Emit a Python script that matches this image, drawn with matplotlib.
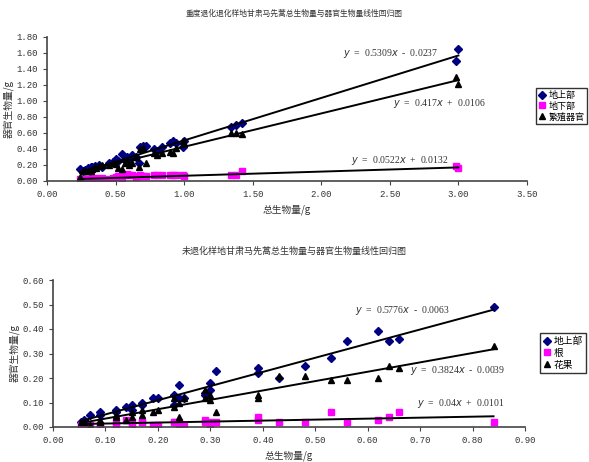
import matplotlib
matplotlib.use("Agg")
import matplotlib.pyplot as plt
import numpy as np

plt.rcParams['font.family'] = ['Liberation Serif', 'Noto Sans CJK SC']

# 重度退化样地
x1 = [0.24, 0.26, 0.28, 0.30, 0.32, 0.33, 0.35, 0.36, 0.38, 0.40, 0.45, 0.48, 0.50,
      0.52, 0.55, 0.57, 0.58, 0.60, 0.62, 0.65, 0.67, 0.68, 0.70, 0.72, 0.78, 0.80,
      0.84, 0.90, 0.92, 0.94, 0.99, 1.00, 1.34, 1.38, 1.42, 2.98, 3.00]
above1 = [0.15, 0.12, 0.14, 0.16, 0.18, 0.17, 0.19, 0.17, 0.20, 0.18, 0.22, 0.24, 0.27,
          0.25, 0.34, 0.26, 0.30, 0.28, 0.32, 0.30, 0.22, 0.43, 0.44, 0.44, 0.40, 0.38,
          0.42, 0.48, 0.50, 0.47, 0.43, 0.50, 0.67, 0.70, 0.72, 1.50, 1.65]
below1 = [0.03, 0.02, 0.03, 0.02, 0.03, 0.04, 0.03, 0.04, 0.03, 0.04, 0.03, 0.04, 0.05,
          0.06, 0.03, 0.08, 0.09, 0.07, 0.08, 0.05, 0.06, 0.07, 0.06, 0.06, 0.08, 0.07,
          0.07, 0.08, 0.07, 0.07, 0.07, 0.06, 0.07, 0.08, 0.12, 0.19, 0.16]
repro1 = [0.05, 0.13, 0.12, 0.13, 0.12, 0.15, 0.18, 0.16, 0.19, 0.20, 0.20, 0.22, 0.21,
          0.16, 0.15, 0.22, 0.25, 0.20, 0.22, 0.30, 0.17, 0.40, 0.41, 0.22, 0.35, 0.33,
          0.35, 0.36, 0.35, 0.41, 0.50, 0.48, 0.60, 0.60, 0.59, 1.30, 1.21]
fit1 = [(0.5309, -0.0237), (0.0522, 0.0132), (0.417, 0.0106)]
labels1 = ["地上部", "地下部", "繁殖器官"]

# 未退化样地
x2 = [0.053, 0.06, 0.07, 0.09, 0.09, 0.12, 0.12, 0.14, 0.15, 0.15, 0.17, 0.17, 0.19,
      0.20, 0.23, 0.23, 0.24, 0.24, 0.25, 0.29, 0.29, 0.30, 0.30, 0.31, 0.39, 0.39,
      0.43, 0.48, 0.53, 0.56, 0.62, 0.64, 0.66, 0.84]
above2 = [0.02, 0.03, 0.05, 0.06, 0.05, 0.07, 0.06, 0.08, 0.09, 0.07, 0.10, 0.09, 0.12,
          0.12, 0.13, 0.09, 0.17, 0.12, 0.12, 0.13, 0.14, 0.18, 0.15, 0.23, 0.24, 0.22,
          0.20, 0.25, 0.28, 0.35, 0.39, 0.35, 0.36, 0.49]
root2 = [0.01, 0.01, 0.01, 0.01, 0.01, 0.01, 0.02, 0.03, 0.02, 0.01, 0.02, 0.02, 0.01,
         0.01, 0.02, 0.02, 0.02, 0.01, 0.01, 0.03, 0.02, 0.02, 0.01, 0.02, 0.04, 0.03,
         0.02, 0.02, 0.06, 0.02, 0.03, 0.04, 0.06, 0.02]
fruit2 = [0.02, 0.02, 0.01, 0.03, 0.02, 0.05, 0.04, 0.03, 0.06, 0.04, 0.07, 0.05, 0.06,
          0.07, 0.12, 0.08, 0.10, 0.04, 0.12, 0.15, 0.12, 0.13, 0.11, 0.06, 0.13, 0.12,
          0.21, 0.21, 0.19, 0.19, 0.20, 0.25, 0.24, 0.33]
fit2 = [(0.5776, -0.0063), (0.04, 0.0101), (0.3824, -0.0039)]
labels2 = ["地上部", "根", "花果"]

colors = ["#000080", "#FF00FF", "black"]
markers = ["D", "s", "^"]
msizes = [3.6, 4.2, 4.8]
cjk = ['Noto Sans CJK SC']
mono = ['Liberation Mono']


def eq_text(k, b):
    sign = "+" if b >= 0 else "-"
    return f"$y$  =  {k:g}$x$  {sign}  {abs(b):.4f}"


def draw(ax, x, ys, fits, labels, eq_pos, xlim, ylim, xstep, ystep):
    x = np.array(x)
    handles = []
    for y, c, m, ms, lab in zip(ys, colors, markers, msizes, labels):
        h, = ax.plot(x, y, ls="none", marker=m, color=c, ms=ms, mec=c, label=lab)
        handles.append(h)
    xs = np.array([x.min(), x.max()])
    for (k, b), (tx, ty) in zip(fits, eq_pos):
        ax.plot(xs, k * xs + b, color="black", lw=1.4)
        ax.text(tx, ty, eq_text(k, b), fontsize=7, color="#333333", ha="left", va="center")
    ax.set_xlim(*xlim)
    ax.set_ylim(*ylim)
    ax.set_xticks(np.arange(xlim[0], xlim[1] + 1e-9, xstep))
    ax.set_yticks(np.arange(ylim[0], ylim[1] + 1e-9, ystep))
    ax.xaxis.set_major_formatter(matplotlib.ticker.FormatStrFormatter("%.2f"))
    ax.yaxis.set_major_formatter(matplotlib.ticker.FormatStrFormatter("%.2f"))
    ax.spines["top"].set_visible(False)
    ax.spines["right"].set_visible(False)
    for s in ["left", "bottom"]:
        ax.spines[s].set_color("#444444")
        ax.spines[s].set_linewidth(1.2)
    ax.tick_params(labelsize=6.5, length=3, colors="#444444", labelcolor="#333333")
    for t in ax.get_xticklabels() + ax.get_yticklabels():
        t.set_family(mono)
    ax.set_xlabel("总生物量/g", fontsize=7, family=cjk, color="#333333", labelpad=4)
    ax.set_ylabel("器官生物量/g", fontsize=7, family=cjk, color="#333333", labelpad=2)
    return handles


fig = plt.figure(figsize=(5.89, 4.62), dpi=100)

ax1 = fig.add_axes([47 / 589, 1 - 181 / 462, 480 / 589, 144 / 462])
h1 = draw(ax1, x1, [above1, below1, repro1], fit1, labels1,
          [(2.16, 1.60), (2.22, 0.26), (2.52, 0.975)], (0, 3.5), (0, 1.8), 0.5, 0.2)
fig.text(0.50, 1 - 14 / 462, "重度退化退化样地甘肃马先蒿总生物量与器官生物量线性回归图",
         fontsize=5.6, family=cjk, color="#333333", ha="center", va="center")
leg1 = fig.legend(handles=h1, loc="upper left", bbox_to_anchor=(536 / 589, 1 - 88 / 462),
                  prop={"family": cjk, "size": 6.5}, frameon=True, fancybox=False,
                  handlelength=0.8, handletextpad=0.3, borderpad=0.3, labelspacing=0.2,
                  borderaxespad=0)
leg1.get_frame().set_edgecolor("black")

ax2 = fig.add_axes([53 / 589, 1 - 427 / 462, 472 / 589, 147 / 462])
h2 = draw(ax2, x2, [above2, root2, fruit2], fit2, labels2,
          [(0.576, 0.475), (0.694, 0.097), (0.681, 0.23)], (0, 0.9), (0, 0.6), 0.1, 0.1)
fig.text(0.50, 1 - 251 / 462, "未退化样地甘肃马先蒿总生物量与器官生物量线性回归图",
         fontsize=6.5, family=cjk, color="#333333", ha="center", va="center")
leg2 = fig.legend(handles=h2, loc="upper left", bbox_to_anchor=(540 / 589, 1 - 333 / 462),
                  prop={"family": cjk, "size": 7}, frameon=True, fancybox=False,
                  handlelength=0.8, handletextpad=0.3, borderpad=0.3, labelspacing=0.2,
                  borderaxespad=0)
leg2.get_frame().set_edgecolor("black")

fig.savefig("out.png", dpi=100)
